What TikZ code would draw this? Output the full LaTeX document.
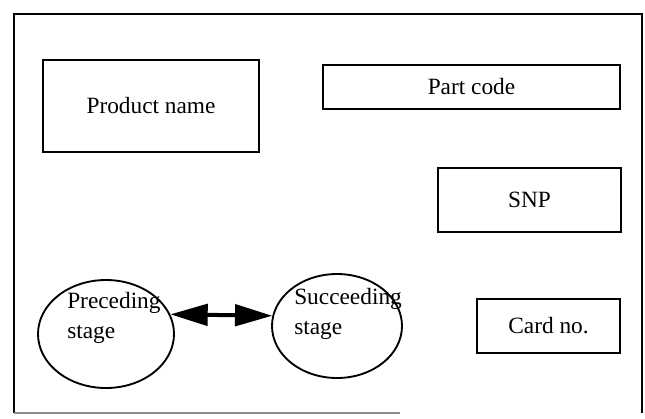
\documentclass[tikz,border=0pt]{standalone}
\usepackage{fontspec}
\setmainfont{Liberation Serif}
\usetikzlibrary{arrows.meta,shapes.geometric}
\tikzset{
	field/.style={draw,line width=1.7pt,inner sep=0pt,font=\fontsize{17.5}{20}\selectfont},
	stage/.style={draw,ellipse,line width=1.4pt,inner sep=0pt},
	stagetext/.style={align=left,inner sep=0pt,font=\fontsize{17.5}{22.5}\selectfont}
}
\begin{document}
\begin{tikzpicture}[x=0.75pt,y=-0.75pt]
				\useasboundingbox (0,0) rectangle (645,418);
				\draw[line width=2.2pt] (14,413) -- (14,14) -- (642,14) -- (642,413);
				\draw[line width=1.2pt,black!45] (14,413) -- (400,413);
				\node[field,minimum width=162pt,minimum height=69pt] (prod) at (151,106) {Product name};
				\node[field,minimum width=223pt,minimum height=33pt] (part) at (471.5,87) {Part code};
				\node[field,minimum width=137pt,minimum height=48pt] (snp) at (529.5,200) {SNP};
				\node[field,minimum width=107pt,minimum height=40.5pt] (card) at (548.5,326) {Card no.};
				\node[stage,minimum width=102pt,minimum height=81pt] (prec) at (106,334) {};
				\node[stage,minimum width=97.5pt,minimum height=78pt] (succ) at (337,326) {};
				\node[stagetext,anchor=west] (prectext) at (67,318) {Preceding\\stage};
				\node[stagetext,anchor=west] (succtext) at (294,314) {Succeeding\\stage};
				\draw[line width=3pt,{Triangle[length=28pt,width=16pt]}-{Triangle[length=28pt,width=16pt]}] (prec.17) -- (succ.171);
				\end{tikzpicture}
\end{document}
